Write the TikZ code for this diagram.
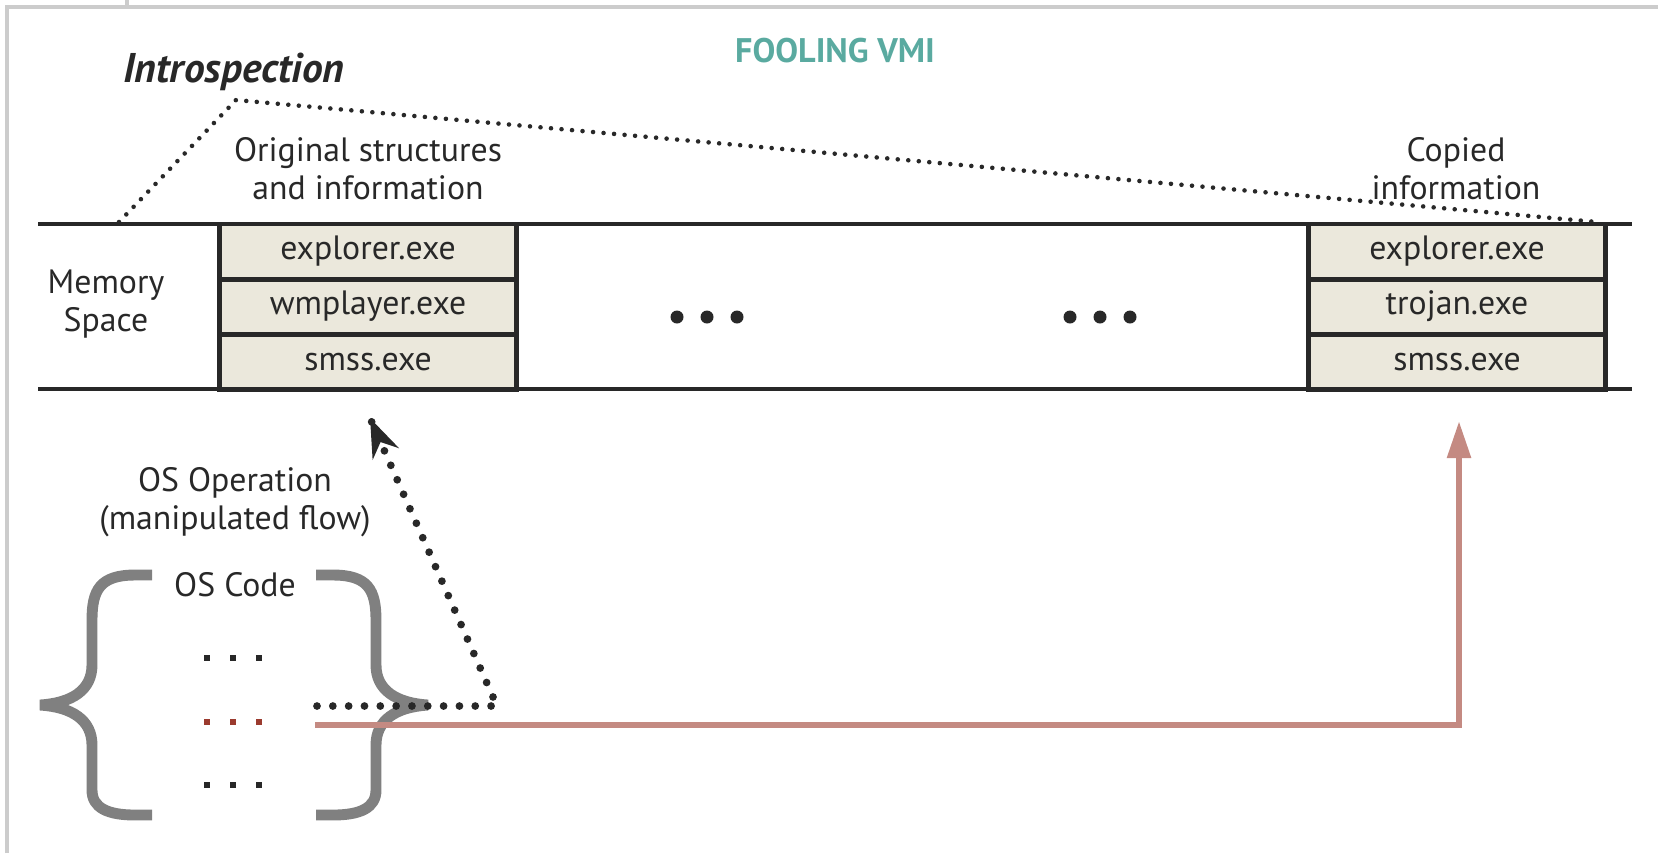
\documentclass[tikz,border=0pt]{standalone}
\usepackage{fontspec}
\setmainfont{PT Sans}
\usepackage{tikz}
\usetikzlibrary{calc,positioning,arrows.meta}
\usepackage{xcolor}

\definecolor{procfill}{RGB}{235,232,220}
\definecolor{inkblack}{RGB}{40,40,40}
\definecolor{flowred}{RGB}{196,138,130}
\definecolor{titleteal}{RGB}{90,170,160}
\definecolor{bracegray}{RGB}{128,128,128}
\definecolor{framegray}{RGB}{204,204,204}
\definecolor{dotred}{RGB}{155,59,47}

\tikzset{
  lbl/.style={font=\fontsize{9.6}{10.8}\selectfont, text=inkblack, align=center, inner sep=0pt},
  procbox/.style={draw=inkblack, line width=1.4pt, fill=procfill, outer sep=0pt, inner sep=0pt,
    minimum width=2.96cm, minimum height=0.55cm, font=\fontsize{9.6}{10}\selectfont, text=inkblack},
  memline/.style={draw=inkblack, line width=1.2pt},
  introdots/.style={draw=inkblack, line width=1.3pt, line cap=round, dash pattern=on 0pt off 3pt},
  flowdots/.style={draw=inkblack, line width=2.2pt, line cap=round, dash pattern=on 0pt off 4.5pt},
  redflow/.style={draw=flowred, line width=1.7pt},
  bracestroke/.style={draw=bracegray, line width=3.1pt}
}

\begin{document}
\begin{tikzpicture}[x=0.01cm, y=-0.01cm]
\useasboundingbox (0,0) rectangle (1658,853);

%% page frame
\draw[framegray, line width=0.9pt] (7,853) -- (7,7) -- (1658,7);
\draw[framegray, line width=0.9pt] (127,0) -- (127,7);

%% titles
\node[font=\bfseries\fontsize{9.7}{10}\selectfont, text=titleteal] (title) at (835,51) {FOOLING VMI};
\node[font=\bfseries\itshape\fontsize{11.8}{12}\selectfont, text=inkblack] (intro) at (234,72) {Introspection};

%% memory space band
\draw[memline] (38,224) -- (1632,224);
\draw[memline] (38,389) -- (1632,389);
\node[lbl] (memspace) at (106,304) {Memory\\Space};

%% process lists
\node[procbox, anchor=north] (orig1) at (368,224) {explorer.exe};
\node[procbox, below=0pt of orig1] (orig2) {wmplayer.exe};
\node[procbox, below=0pt of orig2] (orig3) {smss.exe};
\node[procbox, anchor=north] (copy1) at (1457,224) {explorer.exe};
\node[procbox, below=0pt of copy1] (copy2) {trojan.exe};
\node[procbox, below=0pt of copy2] (copy3) {smss.exe};

\node[lbl] (origlbl) at (368,169) {Original structures\\and information};
\node[lbl] (copylbl) at (1456,169) {Copied\\information};

%% gap dots
\foreach \dx in {677,707,737,1070,1100,1130}{
  \fill[inkblack] (\dx,317) circle (0.065cm);
}

%% introspection view
\coordinate (introL) at (119,222);
\coordinate (introTop) at (236,100);
\coordinate (introR) at (1597,222);
\draw[introdots] (introL) -- (introTop) -- (introR);

%% OS code braces
\node[lbl] (osop) at (235,502) {OS Operation\\(manipulated flow)};
\node[lbl] (oscode) at (235,585) {OS Code};
\draw[bracestroke] (152,575) -- (135,575) .. controls (100,575) and (92,590) .. (92,620)
  -- (92,665) .. controls (92,690) and (72,703) .. (40,705)
  .. controls (72,707) and (92,720) .. (92,745) -- (92,790)
  .. controls (92,808) and (108,815) .. (135,815) -- (152,815);
\draw[bracestroke] (316,575) -- (333,575) .. controls (368,575) and (376,590) .. (376,620)
  -- (376,665) .. controls (376,690) and (396,703) .. (428,705)
  .. controls (396,707) and (376,720) .. (376,745) -- (376,790)
  .. controls (376,808) and (360,815) .. (333,815) -- (316,815);

%% code lines
\foreach \sy/\col in {658/inkblack, 722/dotred, 785/inkblack}{
  \foreach \sx in {207,233,259}{
    \fill[\col] (\sx-3,\sy-3) rectangle (\sx+3,\sy+3);
  }
}

%% flows
\coordinate (hookstart) at (317,706);
\coordinate (hookcorner) at (497,706);
\coordinate (hooktip) at ($(orig3.south)+(2,29)$);
\draw[flowdots] (hookstart) -- (hookcorner) -- (hooktip);
\draw[inkblack, line width=2pt, -{Stealth[length=11pt,width=8pt]}] ($(hooktip)!0.08!(hookcorner)$) -- (hooktip);

\coordinate (redstart) at (315,725);
\coordinate (redtip) at ($(copy3.south)+(2,32)$);
\draw[redflow, -{Triangle[length=10.5pt,width=6.5pt]}] (redstart) -| (redtip);
\end{tikzpicture}
\end{document}
